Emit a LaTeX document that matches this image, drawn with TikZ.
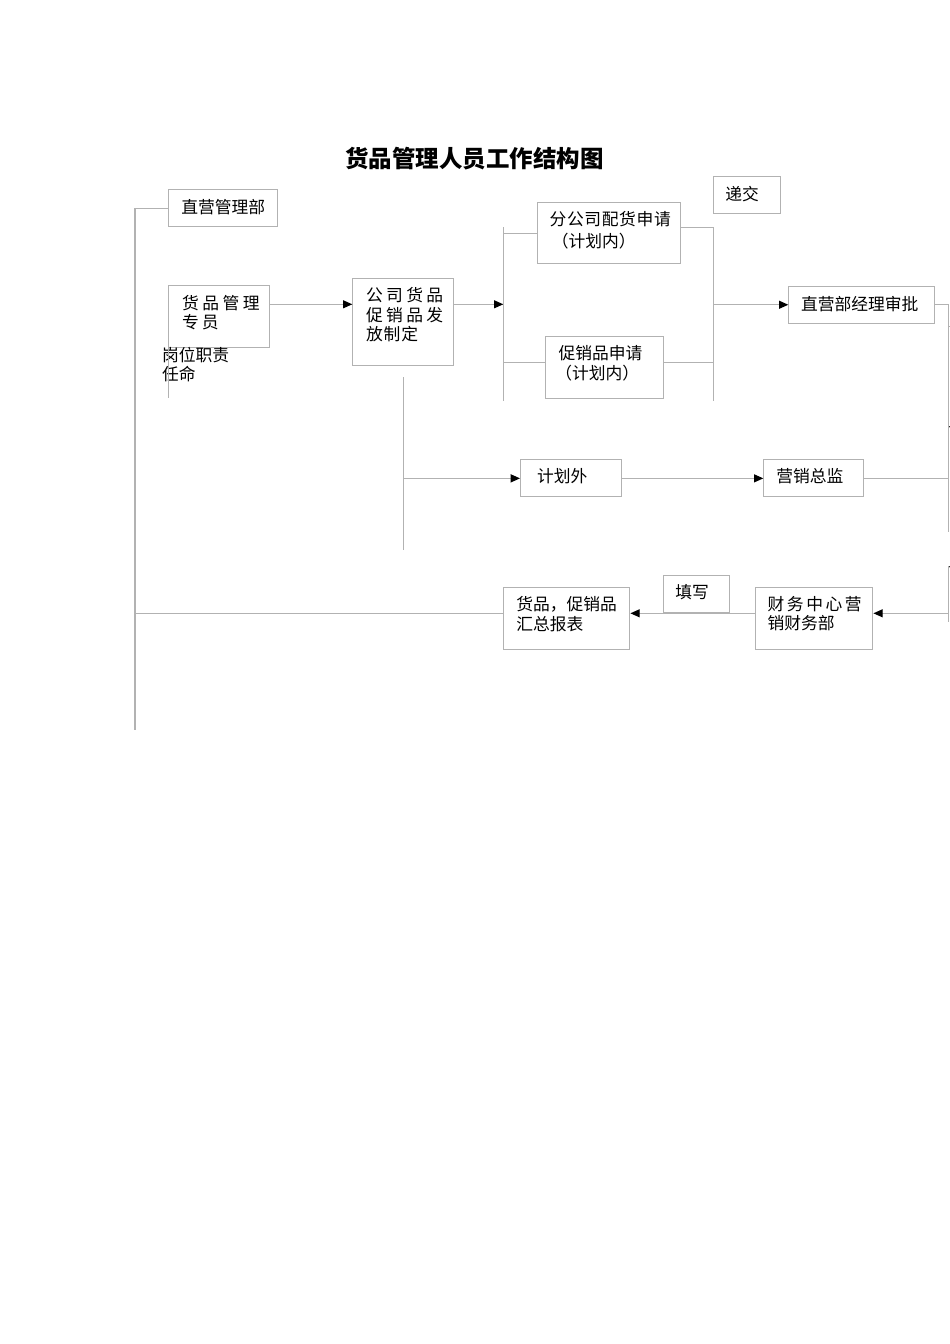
\documentclass[tikz,border=0pt]{standalone}
\usepackage{fontspec}
\setmainfont{Noto Sans CJK SC}
\usetikzlibrary{arrows.meta}
\newdimen\pxu \pxu=0.6263pt
\definecolor{lg}{RGB}{178,178,178}
\tikzset{
  box/.style={draw=lg, line width=0.7pt, rectangle, inner sep=0pt, anchor=north west},
  wh/.style 2 args={minimum width=#1*\pxu, minimum height=#2*\pxu},
  lbl/.style={anchor=west, inner sep=0pt, font=\fontsize{10.5pt}{12pt}\selectfont, text height=9.24pt, text depth=1.26pt},
  ln/.style={draw=lg, line width=0.7pt},
  arr/.style={draw=lg, line width=0.7pt, -{Triangle[length=5.8pt,width=5pt,color=black]}},
  mk/.style={fill=black, draw=none}
}
\begin{document}
\begin{tikzpicture}[x=0.6263pt,y=-0.6263pt]
\useasboundingbox (0,0) rectangle (950,1344);
% title
\node[inner sep=0pt, font=\fontsize{14.7pt}{16pt}\selectfont\bfseries, text height=12.94pt, text depth=1.76pt] (title) at (474.5,158.3) {货品管理人员工作结构图};
% boxes
\node[box, wh={109}{36.7}] (zgb) at (168.3,189.3) {};
\node[box, wh={100.4}{62}] (hpzy) at (168.3,285.3) {};
\node[box, wh={101}{87}] (gsfp) at (352.3,278.3) {};
\node[box, wh={142.7}{61.6}] (fgs) at (537.3,201.7) {};
\node[box, wh={117.4}{62.3}] (cxp) at (545.3,336) {};
\node[box, wh={66.7}{37.3}] (dj) at (713.3,176) {};
\node[box, wh={146}{37}] (zjl) at (788.3,285.7) {};
\node[box, wh={100.7}{37}] (jhw) at (520,459.3) {};
\node[box, wh={100}{37}] (yxzj) at (763.3,459.3) {};
\node[box, wh={126}{62}] (hzbb) at (503.3,587.3) {};
\node[box, wh={66.6}{37.3}] (txb) at (662.7,575) {};
\node[box, wh={117.3}{62}] (cwzx) at (755,587.3) {};
% texts
\node[lbl] (t1) at (181,207) {直营管理部};
\node[lbl] (t2) at (181.7,303.3) {货\kern2.2pt品\kern2.2pt管\kern2.2pt理};
\node[lbl] (t3) at (181.7,322) {专\kern2pt员};
\node[lbl] (t4) at (161.7,355) {岗位职责};
\node[lbl] (t5) at (161.7,374) {任命};
\node[lbl] (t6) at (365.7,295) {公\kern2.1pt司\kern2.1pt货\kern2.1pt品};
\node[lbl] (t7) at (365.7,315) {促\kern2.1pt销\kern2.1pt品\kern2.1pt发};
\node[lbl] (t8) at (365.7,334) {放\kern0.6pt制\kern0.6pt定};
\node[lbl] (t9) at (549.3,219.3) {分\kern0.4pt公\kern0.4pt司\kern0.4pt配\kern0.4pt货\kern0.4pt申\kern0.4pt请};
\node[lbl] (t10) at (551.5,241) {（计划内）};
\node[lbl] (t11) at (558.3,353.3) {促销品申请};
\node[lbl] (t12) at (555,372.7) {（计划内）};
\node[lbl] (t13) at (725,194) {递交};
\node[lbl] (t14) at (800.7,304.5) {直营部经理审批};
\node[lbl] (t15) at (536.7,476.3) {计划外};
\node[lbl] (t16) at (776,476.3) {营销总监};
\node[lbl] (t17) at (516,604.5) {货品，促销品};
\node[lbl] (t18) at (516,623.7) {汇总报表};
\node[lbl] (t19) at (675,591.7) {填写};
\node[lbl] (t20) at (767.3,604.3) {财\kern1.6pt务\kern1.6pt中\kern1.6pt心\kern1.6pt营};
\node[lbl] (t21) at (767.3,623.5) {销财务部};
% coordinates
\coordinate (Lbot) at (135,730);
\coordinate (row1) at (0,304.3);
\coordinate (gwend) at (168.3,398);
\coordinate (brLt) at (503.3,227.3);
\coordinate (brLb) at (503.3,400.7);
\coordinate (brRt) at (713.3,227.3);
\coordinate (brRb) at (713.3,400.7);
\coordinate (cxrow) at (0,362.3);
\coordinate (vt) at (403.3,377);
\coordinate (vb) at (403.3,550);
\coordinate (R1b) at (948.5,532);
\coordinate (R2t) at (948.5,566);
\coordinate (R2b) at (948.5,622);
\coordinate (tickA) at (948.5,326.7);
\coordinate (tickB) at (962,326.7);
\coordinate (brow) at (0,613.3);
% connectors
\draw[ln] (zgb.west) -| (Lbot);
\draw[arr] (hpzy.east |- row1) -- (gsfp.west |- row1);
\draw[ln] (hpzy.south west) -- (gwend);
\draw[arr] (gsfp.east |- row1) -- (brLt |- row1);
\draw[ln] (brLt) -- (brLb);
\draw[ln] (brLt |- fgs.west) -- (fgs.west);
\draw[ln] (brLt |- cxrow) -- (cxp.west |- cxrow);
\draw[ln] (fgs.east |- brRt) -- (brRt) -- (brRb);
\draw[ln] (cxp.east |- cxrow) -- (brRt |- cxrow);
\draw[arr] (brRt |- zjl.west) -- (zjl.west);
\draw[ln] (zjl.east) -| (R1b);
\draw[ln] (tickA) -- (tickB);
\draw[ln] (R2t) -- (R2b);
\fill[mk] (949,426) -- (957,426) -- (953,434) -- cycle;
\fill[mk] (949,566) -- (957,566) -- (953,574) -- cycle;
\draw[ln] (vt) -- (vb);
\draw[arr] (vt |- jhw.west) -- (jhw.west);
\draw[arr] (jhw.east) -- (yxzj.west);
\draw[ln] (yxzj.east) -- (yxzj.east -| R1b);
\draw[arr] (R2t |- brow) -- (cwzx.east |- brow);
\draw[arr] (cwzx.west |- brow) -- (hzbb.east |- brow);
\draw[ln] (hzbb.west |- brow) -- (Lbot |- brow);
\end{tikzpicture}
\end{document}
